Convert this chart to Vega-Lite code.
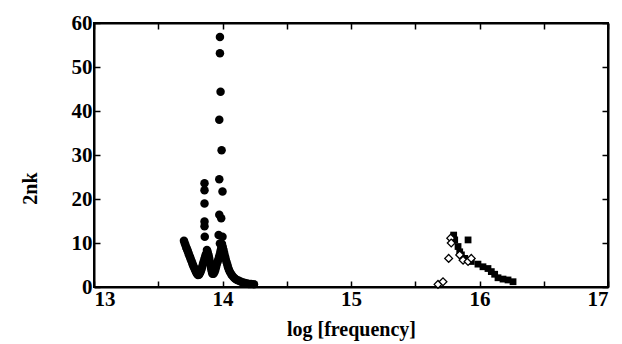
{
  "$schema": "https://vega.github.io/schema/vega-lite/v6.json",
  "width": 514,
  "height": 264,
  "autosize": {"type": "none"},
  "padding": {"left": 94, "top": 23, "right": 14, "bottom": 57},
  "background": "white",
  "config": {
    "view": {"stroke": "black", "strokeWidth": 2},
    "font": "Liberation Serif",
    "axis": {
      "domainColor": "black",
      "domainWidth": 2,
      "tickColor": "black",
      "tickWidth": 1.5,
      "tickSize": -6,
      "grid": false,
      "labelFont": "Liberation Serif",
      "labelFontWeight": "bold",
      "labelFontSize": 21,
      "labelColor": "black",
      "titleFont": "Liberation Serif",
      "titleFontWeight": "bold",
      "titleFontSize": 20,
      "titleColor": "black"
    }
  },
  "data": {
    "values": [
      {"s": "c", "x": 13.700, "y": 10.5},
      {"s": "c", "x": 13.706, "y": 10.0},
      {"s": "c", "x": 13.712, "y": 9.5},
      {"s": "c", "x": 13.718, "y": 9.0},
      {"s": "c", "x": 13.724, "y": 8.6},
      {"s": "c", "x": 13.730, "y": 8.1},
      {"s": "c", "x": 13.735, "y": 7.7},
      {"s": "c", "x": 13.741, "y": 7.2},
      {"s": "c", "x": 13.747, "y": 6.8},
      {"s": "c", "x": 13.753, "y": 6.3},
      {"s": "c", "x": 13.759, "y": 5.9},
      {"s": "c", "x": 13.765, "y": 5.4},
      {"s": "c", "x": 13.770, "y": 5.0},
      {"s": "c", "x": 13.776, "y": 4.6},
      {"s": "c", "x": 13.782, "y": 4.2},
      {"s": "c", "x": 13.788, "y": 3.8},
      {"s": "c", "x": 13.794, "y": 3.4},
      {"s": "c", "x": 13.801, "y": 3.0},
      {"s": "c", "x": 13.809, "y": 2.7},
      {"s": "c", "x": 13.817, "y": 2.8},
      {"s": "c", "x": 13.825, "y": 3.2},
      {"s": "c", "x": 13.831, "y": 3.6},
      {"s": "c", "x": 13.837, "y": 4.1},
      {"s": "c", "x": 13.842, "y": 4.6},
      {"s": "c", "x": 13.848, "y": 5.2},
      {"s": "c", "x": 13.854, "y": 5.8},
      {"s": "c", "x": 13.860, "y": 6.4},
      {"s": "c", "x": 13.866, "y": 7.0},
      {"s": "c", "x": 13.872, "y": 7.5},
      {"s": "c", "x": 13.879, "y": 8.4},
      {"s": "c", "x": 13.885, "y": 7.9},
      {"s": "c", "x": 13.891, "y": 7.3},
      {"s": "c", "x": 13.895, "y": 6.7},
      {"s": "c", "x": 13.899, "y": 6.1},
      {"s": "c", "x": 13.903, "y": 5.5},
      {"s": "c", "x": 13.907, "y": 5.0},
      {"s": "c", "x": 13.911, "y": 4.4},
      {"s": "c", "x": 13.914, "y": 3.9},
      {"s": "c", "x": 13.918, "y": 3.4},
      {"s": "c", "x": 13.922, "y": 3.0},
      {"s": "c", "x": 13.930, "y": 3.0},
      {"s": "c", "x": 13.938, "y": 3.4},
      {"s": "c", "x": 13.944, "y": 3.9},
      {"s": "c", "x": 13.949, "y": 4.5},
      {"s": "c", "x": 13.955, "y": 5.1},
      {"s": "c", "x": 13.961, "y": 5.7},
      {"s": "c", "x": 13.967, "y": 6.2},
      {"s": "c", "x": 13.973, "y": 6.8},
      {"s": "c", "x": 13.979, "y": 7.4},
      {"s": "c", "x": 13.984, "y": 8.0},
      {"s": "c", "x": 13.988, "y": 8.5},
      {"s": "c", "x": 13.992, "y": 9.1},
      {"s": "c", "x": 13.996, "y": 9.8},
      {"s": "c", "x": 14.002, "y": 9.1},
      {"s": "c", "x": 14.008, "y": 8.4},
      {"s": "c", "x": 14.013, "y": 7.7},
      {"s": "c", "x": 14.019, "y": 7.0},
      {"s": "c", "x": 14.025, "y": 6.3},
      {"s": "c", "x": 14.031, "y": 5.7},
      {"s": "c", "x": 14.037, "y": 5.1},
      {"s": "c", "x": 14.043, "y": 4.5},
      {"s": "c", "x": 14.050, "y": 3.9},
      {"s": "c", "x": 14.058, "y": 3.4},
      {"s": "c", "x": 14.068, "y": 2.9},
      {"s": "c", "x": 14.078, "y": 2.5},
      {"s": "c", "x": 14.090, "y": 2.1},
      {"s": "c", "x": 14.101, "y": 1.8},
      {"s": "c", "x": 14.114, "y": 1.6},
      {"s": "c", "x": 14.128, "y": 1.4},
      {"s": "c", "x": 14.144, "y": 1.2},
      {"s": "c", "x": 14.160, "y": 1.0},
      {"s": "c", "x": 14.175, "y": 0.9},
      {"s": "c", "x": 14.191, "y": 0.8},
      {"s": "c", "x": 14.206, "y": 0.7},
      {"s": "c", "x": 14.222, "y": 0.7},
      {"s": "c", "x": 14.245, "y": 0.6},
      {"s": "c", "x": 13.860, "y": 23.6},
      {"s": "c", "x": 13.860, "y": 22.0},
      {"s": "c", "x": 13.860, "y": 19.0},
      {"s": "c", "x": 13.860, "y": 14.9},
      {"s": "c", "x": 13.860, "y": 13.8},
      {"s": "c", "x": 13.862, "y": 11.4},
      {"s": "c", "x": 13.980, "y": 56.8},
      {"s": "c", "x": 13.980, "y": 53.1},
      {"s": "c", "x": 13.985, "y": 44.4},
      {"s": "c", "x": 13.975, "y": 38.0},
      {"s": "c", "x": 13.993, "y": 31.1},
      {"s": "c", "x": 13.975, "y": 24.5},
      {"s": "c", "x": 14.000, "y": 21.7},
      {"s": "c", "x": 13.975, "y": 16.4},
      {"s": "c", "x": 13.990, "y": 15.6},
      {"s": "c", "x": 13.970, "y": 11.8},
      {"s": "c", "x": 14.000, "y": 11.4},
      {"s": "c", "x": 13.980, "y": 9.9},
      {"s": "q", "x": 15.799, "y": 11.8},
      {"s": "q", "x": 15.807, "y": 10.7},
      {"s": "q", "x": 15.911, "y": 10.7},
      {"s": "q", "x": 15.833, "y": 9.2},
      {"s": "q", "x": 15.846, "y": 8.0},
      {"s": "q", "x": 15.859, "y": 7.3},
      {"s": "q", "x": 15.885, "y": 6.5},
      {"s": "q", "x": 15.936, "y": 5.8},
      {"s": "q", "x": 15.988, "y": 5.2},
      {"s": "q", "x": 16.027, "y": 4.6},
      {"s": "q", "x": 16.066, "y": 4.2},
      {"s": "q", "x": 16.092, "y": 3.5},
      {"s": "q", "x": 16.118, "y": 2.9},
      {"s": "q", "x": 16.144, "y": 2.1},
      {"s": "q", "x": 16.183, "y": 1.8},
      {"s": "q", "x": 16.222, "y": 1.6},
      {"s": "q", "x": 16.261, "y": 1.2},
      {"s": "d", "x": 15.776, "y": 11.1},
      {"s": "d", "x": 15.780, "y": 10.0},
      {"s": "d", "x": 15.760, "y": 6.5},
      {"s": "d", "x": 15.846, "y": 7.3},
      {"s": "d", "x": 15.872, "y": 6.1},
      {"s": "d", "x": 15.911, "y": 5.8},
      {"s": "d", "x": 15.936, "y": 6.5},
      {"s": "d", "x": 15.677, "y": 0.6},
      {"s": "d", "x": 15.716, "y": 1.2}
    ]
  },
  "layer": [
    {
      "transform": [{"filter": "datum.s == 'c'"}],
      "mark": {"type": "point", "shape": "circle", "filled": true, "color": "black", "size": 72, "opacity": 1},
      "encoding": {
        "x": {
          "field": "x", "type": "quantitative",
          "scale": {"domain": [13, 17], "nice": false, "zero": false},
          "axis": {
            "title": "log  [frequency]",
            "orient": "bottom",
            "values": [13, 13.5, 14, 14.5, 15, 15.5, 16, 16.5, 17],
            "labelExpr": "datum.value % 1 == 0 ? format(datum.value, 'd') : ''",
            "labelFont": "Liberation Serif",
            "labelFontWeight": "bold",
            "labelFontSize": 21,
            "labelPadding": 7,
            "titlePadding": 10
          }
        },
        "y": {
          "field": "y", "type": "quantitative",
          "scale": {"domain": [0, 60], "nice": false},
          "axis": {
            "title": "2nk",
            "orient": "left",
            "values": [0, 10, 20, 30, 40, 50, 60],
            "labelFont": "Liberation Serif",
            "labelFontWeight": "bold",
            "labelFontSize": 21,
            "labelPadding": 8,
            "titleX": -64,
            "titleY": 165,
            "titleAnchor": null,
            "titleAlign": "center",
            "titleBaseline": "middle",
            "titleAngle": 270
          }
        }
      }
    },
    {
      "transform": [{"filter": "datum.s == 'q'"}],
      "mark": {"type": "point", "shape": "square", "filled": true, "color": "black", "size": 46, "opacity": 1},
      "encoding": {
        "x": {"field": "x", "type": "quantitative", "axis": null},
        "y": {"field": "y", "type": "quantitative", "axis": null}
      }
    },
    {
      "transform": [{"filter": "datum.s == 'd'"}],
      "mark": {"type": "point", "shape": "diamond", "filled": false, "stroke": "black", "fill": "white", "strokeWidth": 1.3, "size": 60, "opacity": 1},
      "encoding": {
        "x": {
          "field": "x", "type": "quantitative",
          "axis": {"orient": "top", "title": null, "labels": false, "values": [13, 13.5, 14, 14.5, 15, 15.5, 16, 16.5, 17]}
        },
        "y": {
          "field": "y", "type": "quantitative",
          "axis": {"orient": "right", "title": null, "labels": false, "values": [0, 10, 20, 30, 40, 50, 60]}
        }
      }
    }
  ],
  "resolve": {"axis": {"x": "independent", "y": "independent"}}
}
